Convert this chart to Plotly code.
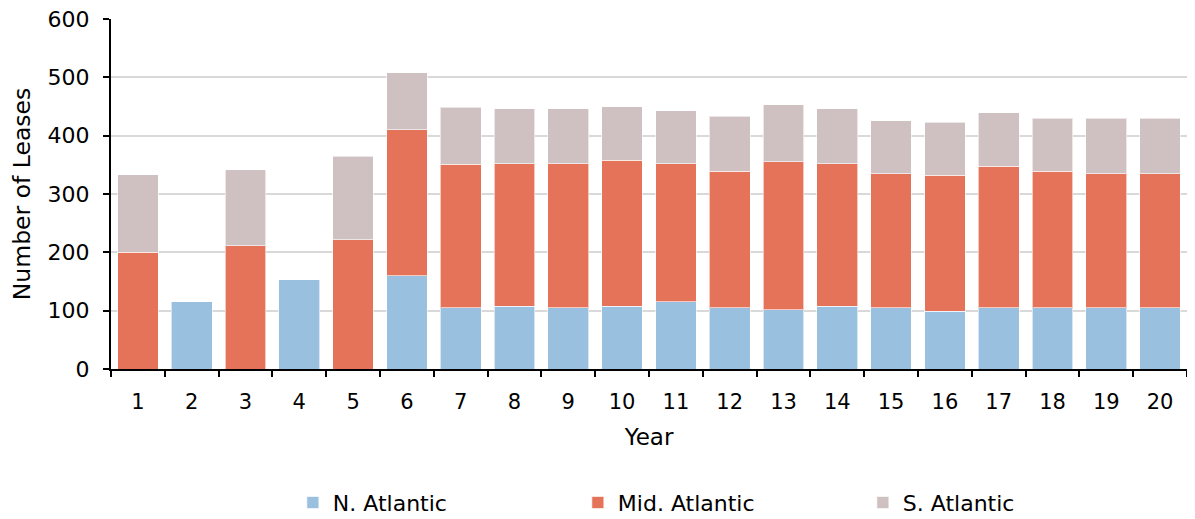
import plotly.graph_objects as go

years = [str(i) for i in range(1, 21)]
n_atlantic = [0, 115, 0, 153, 0, 160, 105, 108, 105, 108, 115, 105, 102, 108, 105, 99, 105, 105, 105, 105]
mid_atlantic = [200, 0, 211, 0, 222, 250, 246, 244, 247, 250, 237, 234, 253, 244, 230, 233, 243, 234, 230, 230]
s_atlantic = [133, 0, 131, 0, 143, 98, 98, 94, 94, 92, 91, 94, 98, 94, 91, 91, 91, 91, 95, 95]

series = [
    ("N. Atlantic", n_atlantic, "#9ac0df"),
    ("Mid. Atlantic", mid_atlantic, "#e5735a"),
    ("S. Atlantic", s_atlantic, "#cfc0c1"),
]

fig = go.Figure()
for name, vals, col in series:
    fig.add_trace(go.Bar(
        x=years, y=vals, name=name,
        marker=dict(color=col, line=dict(color="rgba(255,255,255,0.6)", width=1)),
    ))

font = "DejaVu Sans, Arial, sans-serif"
fig.update_layout(
    barmode="stack",
    bargap=0.245,
    width=1187, height=511,
    margin=dict(l=103, r=8, t=11, b=150, autoexpand=False),
    plot_bgcolor="white", paper_bgcolor="white",
    font=dict(family=font, size=20, color="#000000"),
    legend=dict(
        orientation="h", x=0.169, xanchor="left", y=-0.382, yanchor="middle",
        traceorder="normal",
        entrywidth=240, entrywidthmode="pixels", itemwidth=30,
        font=dict(size=22),
    ),
    xaxis=dict(
        title=dict(text="Year", standoff=16, font=dict(size=23)),
        showline=True, linecolor="black", linewidth=2,
        ticks="outside", tickson="boundaries", ticklen=6, tickcolor="black", tickwidth=2,
        tickfont=dict(size=21), ticklabelstandoff=13,
        automargin=False,
    ),
    yaxis=dict(
        title=dict(text="Number of Leases", standoff=10, font=dict(size=23.5)),
        range=[0, 600], dtick=100,
        showline=True, linecolor="black", linewidth=2,
        ticks="outside", ticklen=6, tickcolor="black", tickwidth=2,
        showgrid=True, gridcolor="#d9d9d9", gridwidth=2,
        tickfont=dict(size=22), ticklabelstandoff=9,
        ticklabeloverflow="allow",
        zeroline=False, automargin=False,
    ),
)

fig.write_html("out.html")
